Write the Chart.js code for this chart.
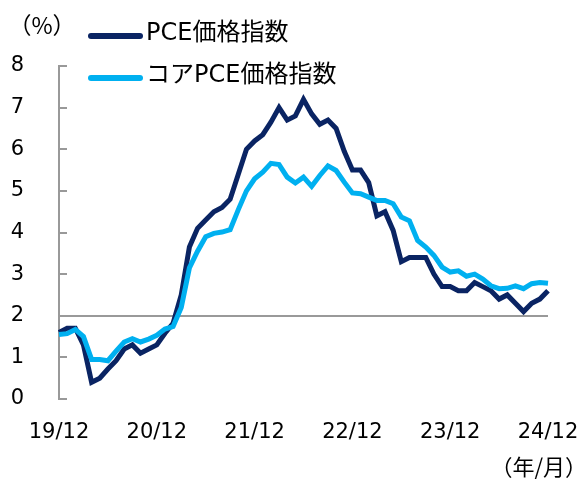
<!DOCTYPE html>
<html><head><meta charset="utf-8">
<script src="https://cdn.jsdelivr.net/npm/chart.js@4/dist/chart.umd.min.js"></script>
<style>html,body{margin:0;padding:0;background:#fff;overflow:hidden}</style>
</head><body>
<canvas id="c" width="577" height="479"></canvas>
<script>
// Categories: monthly, 2019/12 .. 2024/12
const months = [];
for (let i = 0; i < 61; i++) {
  const m = (11 + i) % 12 + 1;
  const yy = 19 + Math.floor((11 + i) / 12);
  months.push(yy + '/' + String(m).padStart(2, '0'));
}
const tickLabels = ['19/12', '20/12', '21/12', '22/12', '23/12', '24/12'];

// PCE price index, y/y %
const pce = [
  1.6, 1.7, 1.7, 1.3, 0.4, 0.5, 0.72, 0.92, 1.2, 1.3, 1.1, 1.2,
  1.3, 1.58, 1.82, 2.5, 3.65, 4.1, 4.3, 4.5, 4.6, 4.8, 5.4, 6.0,
  6.2, 6.35, 6.65, 7.0, 6.7, 6.8, 7.2, 6.85, 6.6, 6.7, 6.5, 5.95,
  5.5, 5.5, 5.2, 4.4, 4.5, 4.05, 3.3, 3.4, 3.4, 3.4, 3.0, 2.7,
  2.7, 2.6, 2.6, 2.8, 2.7, 2.6, 2.4, 2.5, 2.3, 2.1, 2.3, 2.4,
  2.6
];
// Core PCE price index, y/y %
const corePce = [
  1.55, 1.57, 1.67, 1.5, 0.95, 0.95, 0.92, 1.15, 1.37, 1.45, 1.37, 1.44,
  1.53, 1.68, 1.74, 2.2, 3.15, 3.55, 3.9, 3.98, 4.01, 4.07, 4.55, 5.0,
  5.29, 5.45, 5.66, 5.63, 5.33, 5.19, 5.33, 5.11, 5.37, 5.6, 5.49, 5.21,
  4.95, 4.93, 4.85, 4.77, 4.77, 4.69, 4.37, 4.28, 3.81, 3.65, 3.45, 3.17,
  3.05, 3.08, 2.95, 3.0, 2.88, 2.72, 2.65, 2.66, 2.72, 2.65, 2.77, 2.8,
  2.78
];
const yMin = 0, yMax = 8, yStep = 1, refValue = 2;

const FONT = '"DejaVu Sans", "Noto Sans CJK JP", sans-serif';
const AXIS = '#999999';

const deco = {
  id: 'deco',
  beforeDatasetsDraw(chart) {
    const { ctx, chartArea, scales: { y } } = chart;
    ctx.save();
    ctx.strokeStyle = AXIS;
    ctx.lineWidth = 2;
    y.ticks.forEach(t => {
      const py = Math.round(y.getPixelForValue(t.value));
      ctx.beginPath();
      ctx.moveTo(chartArea.left, py);
      ctx.lineTo(chartArea.left + 8, py);
      ctx.stroke();
    });
    ctx.restore();
  },
  afterDraw(chart) {
    const { ctx } = chart;
    ctx.save();
    const rows = [36, 78];
    chart.data.datasets.forEach((ds, i) => {
      const ly = rows[i];
      ctx.strokeStyle = ds.borderColor;
      ctx.lineWidth = 6;
      ctx.lineCap = 'round';
      ctx.beginPath();
      ctx.moveTo(91, ly);
      ctx.lineTo(140, ly);
      ctx.stroke();
      ctx.fillStyle = '#000';
      ctx.font = '24px ' + FONT;
      ctx.textBaseline = 'middle';
      ctx.textAlign = 'left';
      ctx.fillText(ds.label, 146, ly - 2);
    });
    ctx.fillStyle = '#000';
    ctx.font = '23px "Noto Sans CJK JP", sans-serif';
    ctx.textBaseline = 'middle';
    ctx.textAlign = 'center';
    ctx.fillText('（%）', 42, 25);
    ctx.font = '22px "Noto Sans CJK JP", sans-serif';
    ctx.textAlign = 'right';
    ctx.fillText('（年/月）', 587, 467);
    ctx.restore();
  }
};

new Chart(document.getElementById('c'), {
  type: 'line',
  data: {
    labels: months,
    datasets: [
      { label: 'PCE価格指数', data: pce, borderColor: '#0A2463', backgroundColor: '#0A2463', borderWidth: 5, order: 1 },
      { label: 'コアPCE価格指数', data: corePce, borderColor: '#00B0F0', backgroundColor: '#00B0F0', borderWidth: 5, order: 0 }
    ]
  },
  options: {
    responsive: false,
    devicePixelRatio: 1,
    animation: false,
    layout: { padding: { left: 0, right: 29, top: 66, bottom: 0 } },
    elements: { point: { radius: 0 }, line: { tension: 0 } },
    plugins: { legend: { display: false }, tooltip: { enabled: false } },
    scales: {
      x: {
        type: 'category',
        offset: false,
        grid: { display: false, drawTicks: true, tickLength: 21 },
        border: { display: false },
        ticks: {
          autoSkip: false, maxRotation: 0, minRotation: 0, padding: 0,
          color: '#000', font: { family: FONT, size: 21 },
          callback: (v, i) => tickLabels.includes(months[i]) ? months[i] : ''
        },
        afterFit: s => { s.height = 80; s.paddingLeft = 0; s.paddingRight = 0; }
      },
      y: {
        min: yMin, max: yMax,
        ticks: { stepSize: yStep, padding: 35, color: '#000', font: { family: FONT, size: 21 } },
        grid: {
          drawTicks: false, lineWidth: 2,
          color: c => (c.tick && c.tick.value === refValue) ? AXIS : 'rgba(0,0,0,0)'
        },
        border: { display: true, color: AXIS, width: 2 },
        afterFit: s => { s.width = 59; }
      }
    }
  },
  plugins: [deco]
});
</script>
</body></html>
